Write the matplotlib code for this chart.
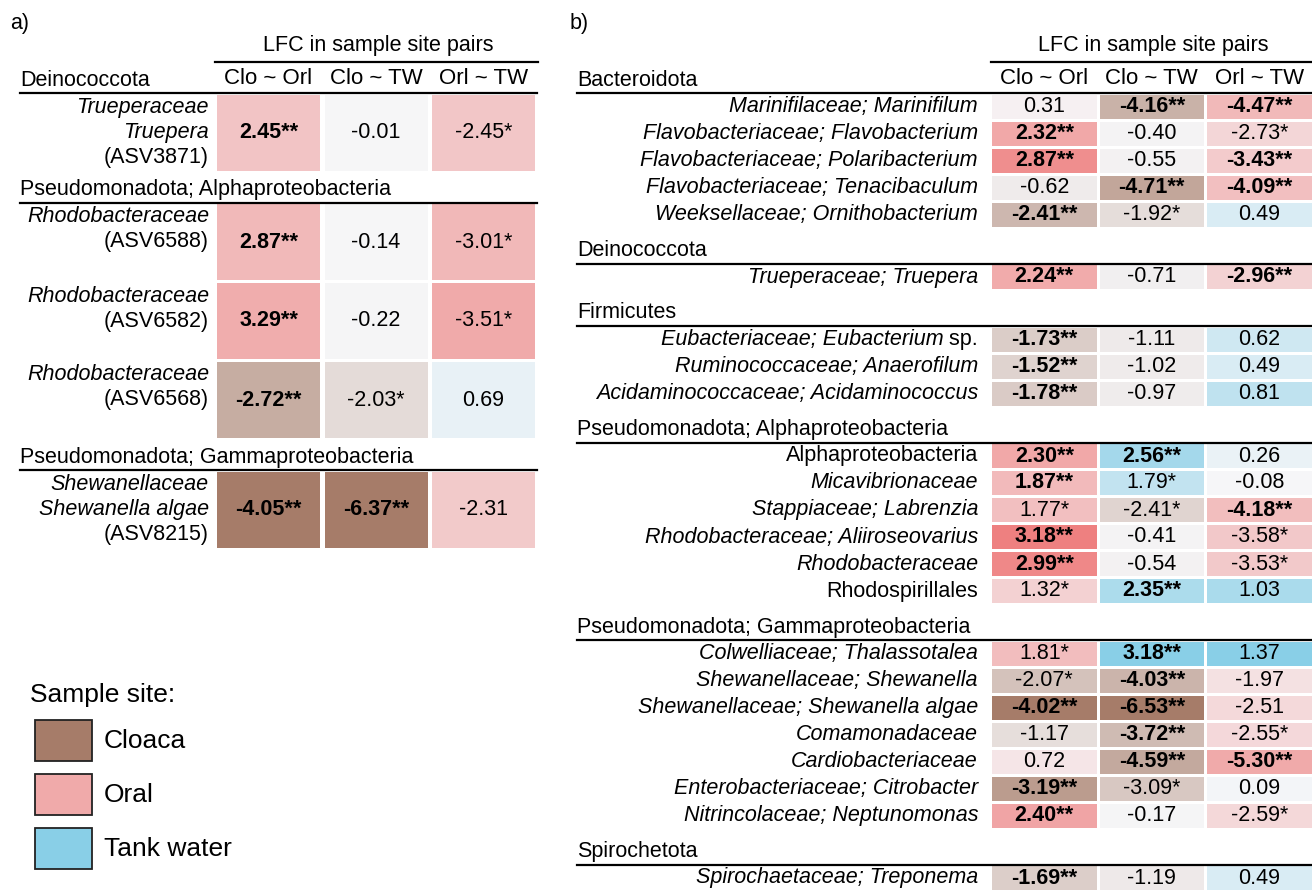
import matplotlib
matplotlib.use("Agg")
import matplotlib.pyplot as plt
import matplotlib.colors as mcolors
from matplotlib.patches import Rectangle
import numpy as np

plt.rcParams['font.family'] = ['Liberation Sans', 'DejaVu Sans']

# ---- data: panel a ----
groups_a = ["Deinococcota", "Pseudomonadota; Alphaproteobacteria",
            "Pseudomonadota; Gammaproteobacteria"]
group_sizes_a = [1, 3, 1]
labels_a = [["Trueperaceae", "Truepera", "(ASV3871)"],
            ["Rhodobacteraceae", "(ASV6588)"],
            ["Rhodobacteraceae", "(ASV6582)"],
            ["Rhodobacteraceae", "(ASV6568)"],
            ["Shewanellaceae", "Shewanella algae", "(ASV8215)"]]
clo_orl_a = [2.45, 2.87, 3.29, -2.72, -4.05]
clo_tw_a = [-0.01, -0.14, -0.22, -2.03, -6.37]
orl_tw_a = [-2.45, -3.01, -3.51, 0.69, -2.31]
sig_clo_orl_a = [2, 2, 2, 2, 2]
sig_clo_tw_a = [0, 0, 0, 1, 2]
sig_orl_tw_a = [1, 1, 1, 0, 0]

# ---- data: panel b ----
groups_b = ["Bacteroidota", "Deinococcota", "Firmicutes",
            "Pseudomonadota; Alphaproteobacteria",
            "Pseudomonadota; Gammaproteobacteria", "Spirochetota"]
group_sizes_b = [5, 1, 3, 6, 7, 1]
labels_b = ["Marinifilaceae; Marinifilum", "Flavobacteriaceae; Flavobacterium",
            "Flavobacteriaceae; Polaribacterium", "Flavobacteriaceae; Tenacibaculum",
            "Weeksellaceae; Ornithobacterium",
            "Trueperaceae; Truepera",
            "Eubacteriaceae; Eubacterium", "Ruminococcaceae; Anaerofilum",
            "Acidaminococcaceae; Acidaminococcus",
            "Alphaproteobacteria", "Micavibrionaceae", "Stappiaceae; Labrenzia",
            "Rhodobacteraceae; Aliiroseovarius", "Rhodobacteraceae", "Rhodospirillales",
            "Colwelliaceae; Thalassotalea", "Shewanellaceae; Shewanella",
            "Shewanellaceae; Shewanella algae", "Comamonadaceae", "Cardiobacteriaceae",
            "Enterobacteriaceae; Citrobacter", "Nitrincolaceae; Neptunomonas",
            "Spirochaetaceae; Treponema"]
upright_b = ["Alphaproteobacteria", "Rhodospirillales"]
suffix_b = {"Eubacteriaceae; Eubacterium": " sp."}
clo_orl_b = [0.31, 2.32, 2.87, -0.62, -2.41, 2.24, -1.73, -1.52, -1.78,
             2.30, 1.87, 1.77, 3.18, 2.99, 1.32,
             1.81, -2.07, -4.02, -1.17, 0.72, -3.19, 2.40, -1.69]
clo_tw_b = [-4.16, -0.40, -0.55, -4.71, -1.92, -0.71, -1.11, -1.02, -0.97,
            2.56, 1.79, -2.41, -0.41, -0.54, 2.35,
            3.18, -4.03, -6.53, -3.72, -4.59, -3.09, -0.17, -1.19]
orl_tw_b = [-4.47, -2.73, -3.43, -4.09, 0.49, -2.96, 0.62, 0.49, 0.81,
            0.26, -0.08, -4.18, -3.58, -3.53, 1.03,
            1.37, -1.97, -2.51, -2.55, -5.30, 0.09, -2.59, 0.49]
sig_clo_orl_b = [0, 2, 2, 0, 2, 2, 2, 2, 2, 2, 2, 1, 2, 2, 1, 1, 1, 2, 0, 0, 2, 2, 2]
sig_clo_tw_b = [2, 0, 0, 2, 1, 0, 0, 0, 0, 2, 1, 1, 0, 0, 2, 2, 2, 2, 2, 2, 1, 0, 0]
sig_orl_tw_b = [2, 1, 2, 2, 0, 2, 0, 0, 0, 0, 0, 2, 1, 1, 0, 0, 0, 0, 1, 2, 0, 1, 0]

pairs = ["Clo ~ Orl", "Clo ~ TW", "Orl ~ TW"]
sites = ["Cloaca", "Oral", "Tank water"]

# colours
CLOACA = "#A67C69"
ORAL = "#F0AAAA"
ORAL_DEEP = "#EE8080"
TANK = "#89CFE7"
BASE = "#F6F6F8"
FS = 15.5
FS_HEAD = 16
GAMMA = 1.3


def make_cmaps(oral_co, oral_ot):
    return [mcolors.LinearSegmentedColormap.from_list("co", [CLOACA, BASE, oral_co]),
            mcolors.LinearSegmentedColormap.from_list("ct", [CLOACA, BASE, TANK]),
            mcolors.LinearSegmentedColormap.from_list("ot", [oral_ot, BASE, TANK])]


def make_norm(vals, floor):
    vmin = min(min(vals), -floor, -0.5)
    vmax = max(max(vals), floor, 0.5)
    return mcolors.TwoSlopeNorm(vcenter=0, vmin=vmin, vmax=vmax)


fig = plt.figure(figsize=(13.12, 8.9), dpi=100)
ax = fig.add_axes([0, 0, 1, 1])
ax.set_xlim(0, 1312)
ax.set_ylim(890, 0)
ax.axis("off")
renderer = fig.canvas.get_renderer()


def draw_cells(columns, sigs, cmaps, floors, x0, row_tops, cw, ch, pitch):
    for j, (vals, sg) in enumerate(zip(columns, sigs)):
        norm = make_norm(vals, floors[j])
        x = x0 + j * pitch
        for i, v in enumerate(vals):
            u = 2 * float(norm(v)) - 1
            c = cmaps[j](0.5 + 0.5 * np.sign(u) * abs(u) ** GAMMA)
            ax.add_patch(Rectangle((x, row_tops[i]), cw, ch,
                                   facecolor=c, edgecolor="none"))
            ax.text(x + cw / 2, row_tops[i] + ch / 2, f"{v:.2f}" + "*" * sg[i],
                    ha="center", va="center", fontsize=FS,
                    fontweight="bold" if sg[i] == 2 else "normal")


def layout(group_sizes, start_line, pitch, gap_after):
    lines, tops = [], []
    y = start_line
    for n in group_sizes:
        lines.append(y)
        for k in range(n):
            tops.append(y + 1.5 + k * pitch)
        y = tops[-1] + pitch - 3 + gap_after
    return lines, tops


# ---------- panel a ----------
ax.text(10, 24, "a)", fontsize=FS, va="center")
xa, pa, cwa, cha = 217, 107.5, 103, 76
ax.text(xa + 1.5 * pa, 45, "LFC in sample site pairs", fontsize=FS,
        ha="center", va="center")
ax.plot([215, 538], [62, 62], color="black", lw=1.6)
for j, p in enumerate(pairs):
    ax.text(xa + j * pa + cwa / 2, 79, p, fontsize=FS_HEAD, ha="center", va="center")

lines_a, tops_a = layout(group_sizes_a, 93, 79, 32)
for g, ly in zip(groups_a, lines_a):
    ax.plot([20, 537], [ly, ly], color="black", lw=1.6)
    ax.text(20, ly - 13, g, fontsize=FS, va="center")
for lab, top in zip(labels_a, tops_a):
    cy = top + cha / 2
    for k, s in enumerate(lab):
        ax.text(209, cy + (k - 1) * 25, s, fontsize=FS, ha="right", va="center",
                style="normal" if s.startswith("(") else "italic")

draw_cells([clo_orl_a, clo_tw_a, orl_tw_a],
           [sig_clo_orl_a, sig_clo_tw_a, sig_orl_tw_a],
           make_cmaps(ORAL, ORAL), [3.4, 3.4, 3.4],
           xa, tops_a, cwa, cha, pa)

# legend
ax.text(30, 695, "Sample site:", fontsize=19, va="center")
for k, (s, c) in enumerate(zip(sites, [CLOACA, ORAL, TANK])):
    y = 720 + k * 54
    ax.add_patch(Rectangle((34.5, y), 57, 41, facecolor=c, edgecolor="#222222", lw=1.3))
    ax.text(104, y + 21, s, fontsize=19, va="center")

# ---------- panel b ----------
ax.text(570, 24, "b)", fontsize=FS, va="center")
xb, pb, cwb, chb = 992, 107.5, 104.5, 24
ax.text(xb + 1.5 * pb, 45, "LFC in sample site pairs", fontsize=FS,
        ha="center", va="center")
ax.plot([991, 1312], [62, 62], color="black", lw=1.6)
for j, p in enumerate(pairs):
    ax.text(xb + j * pb + cwb / 2, 79, p, fontsize=FS_HEAD, ha="center", va="center")

lines_b, tops_b = layout(group_sizes_b, 93, 27, 37)
for g, ly in zip(groups_b, lines_b):
    ax.plot([577, 1312], [ly, ly], color="black", lw=1.6)
    ax.text(577, ly - 13, g, fontsize=FS, va="center")
for lab, top in zip(labels_b, tops_b):
    cy = top + chb / 2
    xr = 978
    if lab in suffix_b:
        t = ax.text(xr, cy, suffix_b[lab], fontsize=FS, ha="right", va="center")
        xr -= t.get_window_extent(renderer).width
    ax.text(xr, cy, lab, fontsize=FS, ha="right", va="center",
            style="normal" if lab in upright_b else "italic")

draw_cells([clo_orl_b, clo_tw_b, orl_tw_b],
           [sig_clo_orl_b, sig_clo_tw_b, sig_orl_tw_b],
           make_cmaps(ORAL_DEEP, ORAL), [0, 0, 0],
           xb, tops_b, cwb, chb, pb)

fig.savefig("out.png", dpi=100)
